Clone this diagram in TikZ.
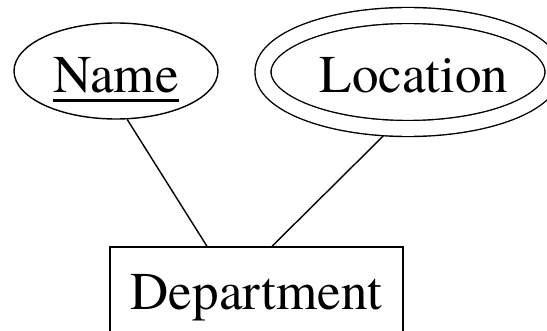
\documentclass[tikz,border=0pt]{standalone}
\usepackage{fontspec}
\newfontfamily\timesfont{texgyretermes}[Extension=.otf, UprightFont=*-regular]
\newcommand\thickul[1]{\setbox0\hbox{#1}\rlap{\rule[-9pt]{\wd0}{3pt}}\box0}
\usetikzlibrary{shapes.geometric}
\begin{document}
\begin{tikzpicture}[x=1pt,y=-1pt,line width=1.4pt,
  lbl/.style={font=\timesfont\fontsize{53}{60}\selectfont, inner sep=0pt},
  attr/.style={lbl, ellipse, draw},
  ent/.style={lbl, rectangle, draw}]
\clip (0,0) rectangle (547,331);
\node[attr, minimum width=204pt, minimum height=96pt, text height=44pt, text depth=0pt] (name) at (116,71) {\thickul{Name}};
\node[attr, double, double distance=14.6pt, outer sep=8pt, minimum width=290pt, minimum height=113pt, text height=42pt, text depth=0pt] (loc) at (408,72) {\hspace*{12pt}Location};
\node[ent, minimum width=293pt, minimum height=170pt, text height=0pt, text depth=44pt] (dept) at (256.5,332) {Department};
\draw (name.-77) -- ([xshift=-49.5pt]dept.north);
\draw (loc.-111) -- ([xshift=15.5pt]dept.north);
\end{tikzpicture}
\end{document}
